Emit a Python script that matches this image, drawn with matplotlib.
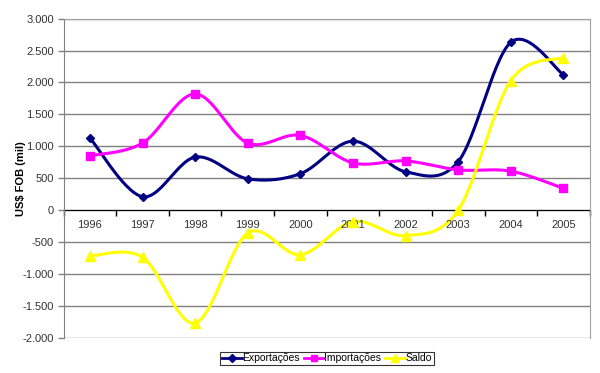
import numpy as np
import matplotlib
matplotlib.use("Agg")
import matplotlib.pyplot as plt
from matplotlib.ticker import FuncFormatter, MultipleLocator

years = ["1996", "1997", "1998", "1999", "2000", "2001", "2002", "2003", "2004", "2005"]
exportacoes = [1130, 210, 830, 490, 570, 1080, 600, 760, 2630, 2120]
importacoes = [850, 1050, 1820, 1050, 1170, 740, 770, 630, 610, 340]
saldo = [-720, -740, -1770, -360, -700, -180, -400, 0, 2030, 2390]

plt.rcParams['font.family'] = ['Liberation Sans', 'DejaVu Sans']


def smooth(xs, ys, n=30):
    xs = np.asarray(xs, float)
    ys = np.asarray(ys, float)
    px = np.concatenate([[xs[0]], xs, [xs[-1]]])
    py = np.concatenate([[ys[0]], ys, [ys[-1]]])
    ox, oy = [], []
    for i in range(1, len(px) - 2):
        p0 = np.array([px[i - 1], py[i - 1]])
        p1 = np.array([px[i], py[i]])
        p2 = np.array([px[i + 1], py[i + 1]])
        p3 = np.array([px[i + 2], py[i + 2]])
        c1 = p1 + (p2 - p0) / 6.0
        c2 = p2 - (p3 - p1) / 6.0
        t = np.linspace(0, 1, n)[:, None]
        pts = ((1 - t) ** 3) * p1 + 3 * ((1 - t) ** 2) * t * c1 + 3 * (1 - t) * t ** 2 * c2 + t ** 3 * p2
        ox.extend(pts[:, 0])
        oy.extend(pts[:, 1])
    return np.array(ox), np.array(oy)


fig = plt.figure(figsize=(6.0, 3.73), dpi=100)
ax = fig.add_axes([0.106, 0.0946, 0.877, 0.8554])

x = np.arange(len(years))
series = [
    ("Exportações", exportacoes, "#000080", "D", 4.5),
    ("Importações", importacoes, "#FF00FF", "s", 6),
    ("Saldo", saldo, "#FFFF00", "^", 6.5),
]
handles = []
for name, vals, col, mk, ms in series:
    sx, sy = smooth(x, vals)
    ax.plot(sx, sy, color=col, lw=2.2, zorder=3)
    ax.plot(x, vals, linestyle='none', marker=mk, ms=ms, color=col, mec=col, zorder=4)
    h, = ax.plot([], [], color=col, lw=2, marker=mk, ms=ms * 0.8, mec=col)
    handles.append(h)

ax.set_xlim(-0.5, len(years) - 0.5)
ax.set_ylim(-2000, 3000)
ax.yaxis.set_major_locator(MultipleLocator(500))
ax.yaxis.set_major_formatter(FuncFormatter(lambda v, p: f"{int(v):,}".replace(",", ".")))
ax.grid(axis='y', color='#808080', lw=1)
ax.set_axisbelow(True)
ax.tick_params(axis='y', labelsize=8, colors='#808080', length=4, width=1, direction='out', pad=3)
ax.tick_params(axis='y', labelcolor='#333333')

for s in ['top', 'right']:
    ax.spines[s].set_color('#A0A0A0')
ax.spines['left'].set_color('#808080')
ax.spines['bottom'].set_position(('data', 0))
ax.spines['bottom'].set_color('#000000')
ax.spines['bottom'].set_zorder(2)

ax.set_xticks(np.arange(-0.5, len(years) + 0.5, 1.0))
ax.set_xticklabels([])
ax.tick_params(axis='x', length=4, width=1, direction='out', colors='#000000')
for i, yr in enumerate(years):
    ax.text(i, -160, yr, ha='center', va='top', fontsize=8, color='#333333')

ax.set_ylabel("US$ FOB (mil)", fontsize=8, fontweight='bold', labelpad=10)
ax.yaxis.set_label_coords(-0.072, 0.5)

leg = fig.legend(handles, [s[0] for s in series], loc='lower center', bbox_to_anchor=(0.545, 0.022),
                 ncol=3, fontsize=7.5, frameon=True, fancybox=False, handlelength=1.9,
                 handletextpad=0.05, columnspacing=0.4, borderpad=0.15, borderaxespad=0)
leg.get_frame().set_edgecolor('#000000')
leg.get_frame().set_linewidth(0.8)

fig.savefig("out.png", dpi=100)
